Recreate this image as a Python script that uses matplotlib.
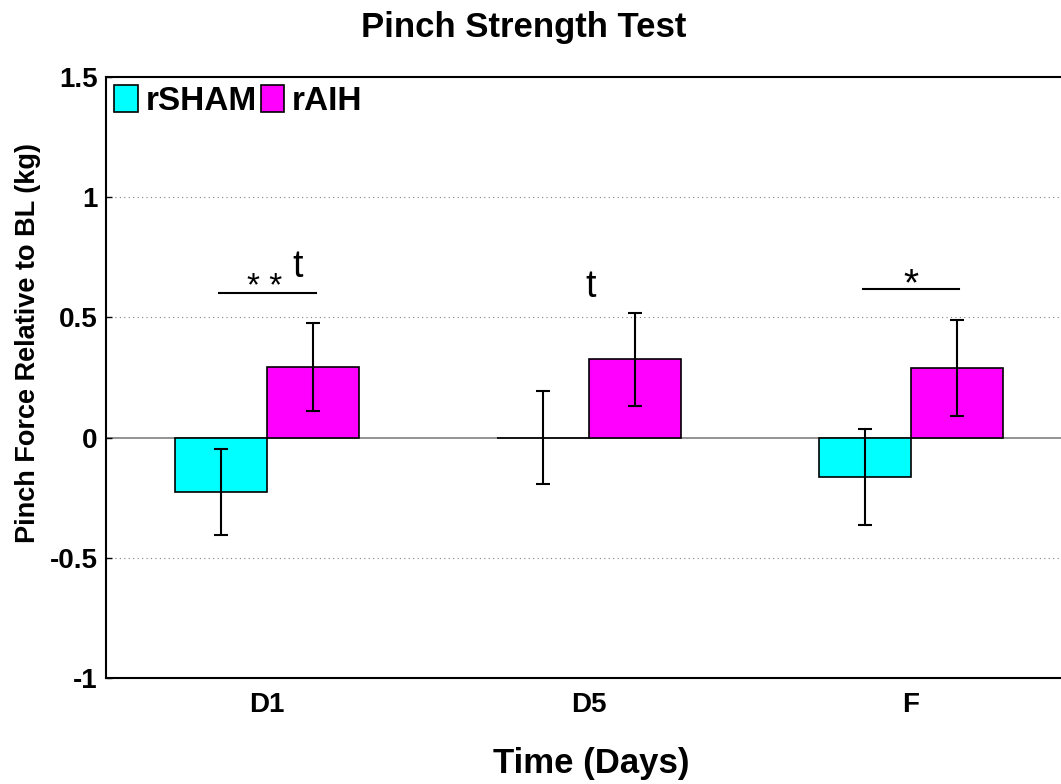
import numpy as np
import matplotlib
matplotlib.use("Agg")
import matplotlib.pyplot as plt

plt.rcParams['font.family'] = ['Liberation Sans', 'DejaVu Sans']

days = ["D1", "D5", "F"]
sham_mean = [-0.226, 0.0, -0.164]
sham_err = [0.18, 0.195, 0.2]
aih_mean = [0.294, 0.325, 0.29]
aih_err = [0.182, 0.195, 0.2]

x = np.arange(1, len(days) + 1)
w = 0.286

fig = plt.figure(figsize=(10.61, 7.84), dpi=100)
ax = fig.add_axes([106/1061, 106/784, 966/1061, 601/784])

ax.axhline(0, color="#808080", lw=1.2, zorder=1)
for yy in [-0.5, 0.5, 1.0]:
	ax.axhline(yy, color="#808080", lw=0.8, ls=(0, (1, 3)), zorder=0)

ax.bar(x - w/2, sham_mean, w, color="#00ffff", edgecolor="black", lw=1.2, label="rSHAM", zorder=2)
ax.bar(x + w/2, aih_mean, w, color="#ff00ff", edgecolor="black", lw=1.2, label="rAIH", zorder=2)
ax.errorbar(x - w/2, sham_mean, yerr=sham_err, fmt="none", ecolor="black", elinewidth=1.5, capsize=5, capthick=1.5, zorder=3)
ax.errorbar(x + w/2, aih_mean, yerr=aih_err, fmt="none", ecolor="black", elinewidth=1.5, capsize=5, capthick=1.5, zorder=3)

# significance marks
ax.plot([x[0] - 0.149, x[0] + 0.152], [0.6, 0.6], color="black", lw=1.5)
ax.text(x[0] - 0.006, 0.59, "* *", ha="center", va="baseline", fontsize=24)
ax.text(x[0] + 0.096, 0.668, "t", ha="center", va="baseline", fontsize=27)
ax.text(x[1] + 0.006, 0.586, "t", ha="center", va="baseline", fontsize=27)
ax.plot([x[2] - 0.149, x[2] + 0.149], [0.618, 0.618], color="black", lw=1.5)
ax.text(x[2], 0.59, "*", ha="center", va="baseline", fontsize=28)

ax.set_xlim(0.5, 3.5)
ax.set_ylim(-1, 1.5)
ax.set_xticks(x)
ax.set_xticklabels(days, fontsize=20, fontweight="bold")
ax.set_yticks([-1, -0.5, 0, 0.5, 1, 1.5])
ax.set_yticklabels(["-1", "-0.5", "0", "0.5", "1", "1.5"], fontsize=20, fontweight="bold")
ax.tick_params(axis="x", length=0, pad=10)
ax.tick_params(axis="y", direction="in", length=4, width=1, pad=6)
for s in ax.spines.values():
	s.set_linewidth(1.5)

fig.text(524/1061, 1 - 37/784, "Pinch Strength Test", ha="center", va="baseline", fontsize=25, fontweight="bold")
fig.text(591/1061, 1 - 773/784, "Time (Days)", ha="center", va="baseline", fontsize=25, fontweight="bold")
fig.text(28/1061, 1 - 343/784, "Pinch Force Relative to BL (kg)", ha="center", va="center",
	rotation=90, fontsize=19.5, fontweight="bold")

leg = ax.legend(loc="upper left", ncol=2, frameon=False, prop={"size": 24, "weight": "bold"},
	handlelength=0.7, handleheight=0.87, handletextpad=0.24, columnspacing=0.12,
	borderaxespad=0.15, borderpad=0.1)

fig.savefig("out.png", dpi=100)
